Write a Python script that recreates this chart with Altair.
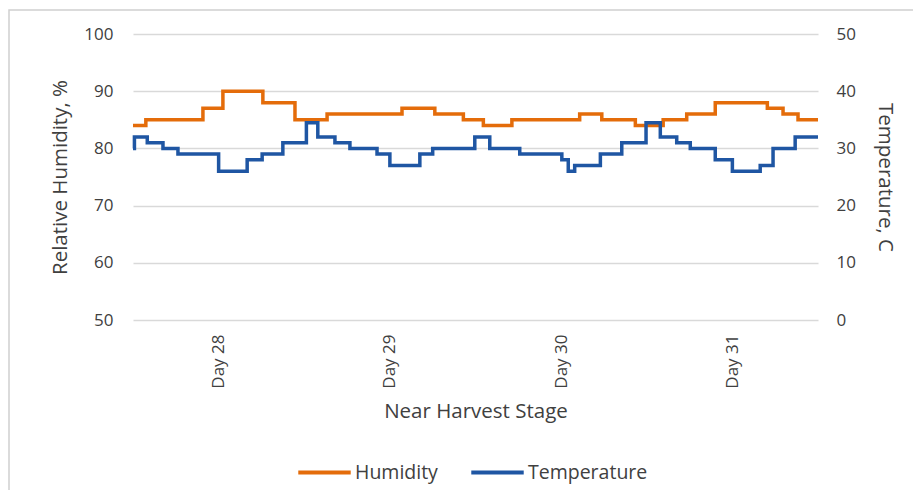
import altair as alt
import pandas as pd

# ---- data (hours since start of Day 28, value) ----
day_labels = ["Day 28", "Day 29", "Day 30", "Day 31"]
day_centers = [12, 36, 60, 84]

hum_t = [0, 1.8, 9.8, 12.6, 18.2, 22.7, 27.2, 37.7, 42.3, 46.3, 49.1, 53.1,
         62.6, 65.7, 70.4, 74.3, 77.6, 81.6, 88.9, 91.1, 93.2, 96]
hum_v = [84, 85, 87, 90, 88, 85, 86, 87, 86, 85, 84, 85,
         86, 85, 84, 85, 86, 88, 87, 86, 85, 85]

temp_t = [0, 0.2, 2.0, 4.2, 6.3, 12.0, 16.0, 18.1, 21.0, 24.3, 25.9, 28.3,
          30.4, 34.2, 36.0, 40.2, 42.0, 47.9, 50.0, 54.2, 60.1, 61.0, 61.9,
          65.5, 68.5, 71.9, 73.9, 76.2, 78.1, 81.6, 84.0, 87.9, 89.7, 92.8, 96]
temp_v = [30, 32, 31, 30, 29, 26, 28, 29, 31, 34.5, 32, 31,
          30, 29, 27, 29, 30, 32, 30, 29, 28, 26, 27,
          29, 31, 34.5, 32, 31, 30, 28, 26, 27, 30, 32, 32]

hum_df = pd.DataFrame({"t": hum_t, "v": hum_v, "series": "Humidity"})
temp_df = pd.DataFrame({"t": temp_t, "v": temp_v, "series": "Temperature"})

FONT = "Open Sans"
TXT = "#404040"
ORANGE = "#E46C0A"
BLUE = "#1F56A3"

label_expr = "{" + ",".join(f"'{c}':'{l}'" for c, l in zip(day_centers, day_labels)) + "}[datum.value]"

color = alt.Color(
    "series:N",
    scale=alt.Scale(domain=["Humidity", "Temperature"], range=[ORANGE, BLUE]),
    legend=alt.Legend(
        title=None,
        orient="none",
        legendX=163,
        legendY=410,
        direction="horizontal",
        symbolType="stroke",
        symbolSize=2750,
        symbolStrokeWidth=4,
        labelFont=FONT,
        labelFontSize=19.5,
        labelColor=TXT,
        labelOffset=2,
        columnPadding=25,
    ),
)

x = alt.X(
    "t:Q",
    scale=alt.Scale(domain=[0, 96], nice=False, zero=False),
    axis=alt.Axis(
        values=day_centers,
        labelExpr=label_expr,
        labelAngle=270,
        grid=False,
        domain=False,
        ticks=False,
        labelPadding=14,
        title="Near Harvest Stage",
        titlePadding=13,
    ),
)

hum = alt.Chart(hum_df).mark_line(interpolate="step-after", strokeWidth=3.5).encode(
    x=x,
    y=alt.Y(
        "v:Q",
        scale=alt.Scale(domain=[50, 100], nice=False, zero=False),
        axis=alt.Axis(
            values=[50, 60, 70, 80, 90, 100],
            title="Relative Humidity, %",
            grid=True,
            domain=False,
            ticks=False,
            labelPadding=20,
            titlePadding=13,
        ),
    ),
    color=color,
)

temp = alt.Chart(temp_df).mark_line(interpolate="step-after", strokeWidth=3.5).encode(
    x=x,
    y=alt.Y(
        "v:Q",
        scale=alt.Scale(domain=[0, 50], nice=False, zero=False),
        axis=alt.Axis(
            orient="right",
            values=[0, 10, 20, 30, 40, 50],
            title="Temperature, C",
            grid=False,
            domain=False,
            ticks=False,
            labelPadding=18,
            titlePadding=19,
        ),
    ),
    color=color,
)

border = alt.Chart(pd.DataFrame({"a": [0]})).mark_rect(
    fill="transparent", stroke="#d0d0d0", strokeWidth=1.5
).encode(
    x=alt.value(-124), x2=alt.value(800), y=alt.value(-24), y2=alt.value(480)
)

chart = (
    alt.layer(border, hum, temp)
    .resolve_scale(y="independent")
    .properties(
        width=685,
        height=286,
        autosize=alt.AutoSizeParams(type="none"),
        padding={"left": 125, "top": 26, "right": 95, "bottom": 170},
        background="white",
    )
    .configure_view(stroke=None)
    .configure_axis(
        labelFont=FONT,
        labelFontSize=17,
        labelColor=TXT,
        titleFont=FONT,
        titleFontSize=20.5,
        titleFontWeight="normal",
        titleColor=TXT,
        gridColor="#d9d9d9",
        gridWidth=1.5,
    )
)

chart.save("out.html", embed_options={"renderer": "svg", "actions": False})
